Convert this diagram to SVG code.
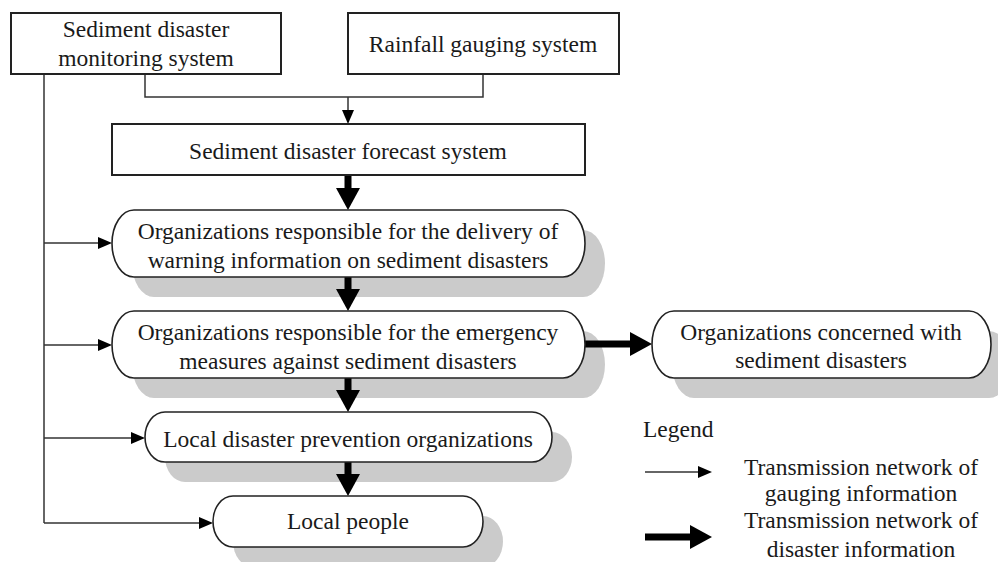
<svg xmlns="http://www.w3.org/2000/svg" width="998" height="562" viewBox="0 0 998 562">
<defs>
<style>
.box{fill:#fff;stroke:#222;stroke-width:2}
.pill{fill:#fff;stroke:#222;stroke-width:1.6}
.shadow{fill:#cbcbcb;stroke:none}
.thin{fill:none;stroke:#333;stroke-width:1.5}
.thick{fill:none;stroke:#000;stroke-width:7}
text{font-family:"Liberation Serif","Times New Roman",serif;font-size:23.5px;fill:#1a1a1a;text-anchor:middle}
.legend{text-anchor:start}
</style>
<marker id="ah" markerUnits="userSpaceOnUse" viewBox="0 0 14 12" refX="8" refY="6" markerWidth="14" markerHeight="12" orient="auto">
<path d="M0,0 L14,6 L0,12 z" fill="#000"/>
</marker>
<marker id="ahT" markerUnits="userSpaceOnUse" viewBox="0 0 22 24" refX="10" refY="12" markerWidth="22" markerHeight="24" orient="auto">
<path d="M0,0 L22,12 L0,24 z" fill="#000"/>
</marker>
</defs>
<rect width="998" height="562" fill="#fff"/>

<g id="shadows">
<rect class="shadow" x="132" y="230" width="473" height="67" rx="22" ry="33.5"/>
<rect class="shadow" x="132" y="331" width="473" height="67" rx="22" ry="33.5"/>
<rect class="shadow" x="672" y="331" width="339" height="67" rx="22" ry="33.5"/>
<rect class="shadow" x="165" y="432" width="407" height="50" rx="20" ry="25"/>
<rect class="shadow" x="233" y="516" width="270" height="51" rx="20" ry="25.5"/>
</g>

<g id="connectors">
<path class="thin" d="M145,74 V97 H483 V74"/>
<path class="thin" d="M348,97 V118" marker-end="url(#ah)"/>
<path class="thin" d="M44,74 V523"/>
<path class="thin" d="M44,243 H106" marker-end="url(#ah)"/>
<path class="thin" d="M44,345 H106" marker-end="url(#ah)"/>
<path class="thin" d="M44,438 H139" marker-end="url(#ah)"/>
<path class="thin" d="M44,523 H207" marker-end="url(#ah)"/>
<path class="thick" d="M348,175 V198" marker-end="url(#ahT)"/>
<path class="thick" d="M348,277 V299" marker-end="url(#ahT)"/>
<path class="thick" d="M348,378 V400" marker-end="url(#ahT)"/>
<path class="thick" d="M348,462 V484" marker-end="url(#ahT)"/>
<path class="thick" d="M585,344 H640" marker-end="url(#ahT)"/>
</g>

<g id="monitoring">
<rect class="box" x="11" y="13" width="270" height="61"/>
<text x="146" y="37">Sediment disaster</text>
<text x="146" y="66">monitoring system</text>
</g>
<g id="rainfall">
<rect class="box" x="348" y="13" width="271" height="61"/>
<text x="483" y="52">Rainfall gauging system</text>
</g>
<g id="forecast">
<rect class="box" x="112" y="124" width="473" height="51"/>
<text x="348" y="159">Sediment disaster forecast system</text>
</g>
<g id="delivery">
<rect class="pill" x="112" y="210" width="473" height="67" rx="22" ry="33.5"/>
<text x="348" y="239">Organizations responsible for the delivery of</text>
<text x="348" y="268">warning information on sediment disasters</text>
</g>
<g id="emergency">
<rect class="pill" x="112" y="311" width="473" height="67" rx="22" ry="33.5"/>
<text x="348" y="340">Organizations responsible for the emergency</text>
<text x="348" y="369">measures against sediment disasters</text>
</g>
<g id="concerned">
<rect class="pill" x="652" y="311" width="339" height="67" rx="22" ry="33.5"/>
<text x="821" y="340">Organizations concerned with</text>
<text x="821" y="368">sediment disasters</text>
</g>
<g id="local-org">
<rect class="pill" x="145" y="412" width="407" height="50" rx="20" ry="25"/>
<text x="348" y="447">Local disaster prevention organizations</text>
</g>
<g id="local-people">
<rect class="pill" x="213" y="496" width="270" height="51" rx="20" ry="25.5"/>
<text x="348" y="529">Local people</text>
</g>

<g id="legend">
<text class="legend" x="643" y="437">Legend</text>
<path class="thin" d="M645,472 H706" marker-end="url(#ah)"/>
<text x="861" y="475">Transmission network of</text>
<text x="861" y="501">gauging information</text>
<path class="thick" d="M645,537 H700" marker-end="url(#ahT)"/>
<text x="861" y="528">Transmission network of</text>
<text x="861" y="557">disaster information</text>
</g>
</svg>
